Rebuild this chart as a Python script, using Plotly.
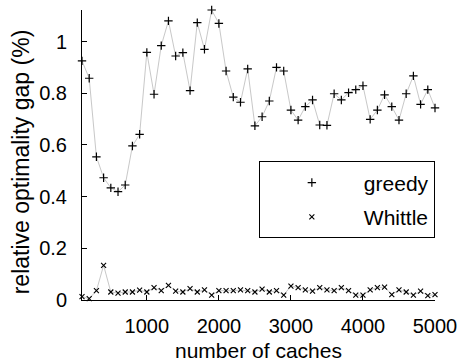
import plotly.graph_objects as go

caches = list(range(100, 5001, 100))

greedy = [0.925, 0.858, 0.554, 0.473, 0.434, 0.419, 0.445, 0.596, 0.641, 0.958,
          0.796, 0.984, 1.080, 0.944, 0.957, 0.810, 1.073, 0.970, 1.122, 1.070,
          0.886, 0.785, 0.765, 0.894, 0.674, 0.709, 0.770, 0.900, 0.886, 0.735,
          0.696, 0.748, 0.774, 0.677, 0.676, 0.798, 0.774, 0.802, 0.814, 0.829,
          0.699, 0.735, 0.794, 0.748, 0.696, 0.798, 0.867, 0.757, 0.814, 0.743]

whittle = [0.013, 0.005, 0.036, 0.134, 0.031, 0.027, 0.031, 0.031, 0.038, 0.031,
           0.048, 0.036, 0.057, 0.034, 0.031, 0.044, 0.031, 0.039, 0.019, 0.036,
           0.036, 0.036, 0.039, 0.036, 0.031, 0.042, 0.031, 0.036, 0.019, 0.054,
           0.048, 0.039, 0.034, 0.048, 0.039, 0.036, 0.048, 0.036, 0.019, 0.019,
           0.039, 0.048, 0.050, 0.021, 0.039, 0.031, 0.019, 0.034, 0.017, 0.021]

x_ticks = [1000, 2000, 3000, 4000, 5000]
y_ticks = [0, 0.2, 0.4, 0.6, 0.8, 1]
y_tick_labels = ["0", "0.2", "0.4", "0.6", "0.8", "1"]

FONT = "Liberation Sans, Arial, Helvetica, sans-serif"
LINE_GRAY = "#c8c8c8"

fig = go.Figure()
# connecting lines (no legend entry)
for ys in (greedy, whittle):
    fig.add_trace(go.Scatter(
        x=caches, y=ys, mode="lines", showlegend=False, hoverinfo="skip",
        line=dict(color=LINE_GRAY, width=1),
    ))
# markers (legend entries)
fig.add_trace(go.Scatter(
    x=caches, y=greedy, name="greedy", mode="markers",
    marker=dict(symbol="cross-thin-open", size=6, color="black",
                line=dict(color="black", width=1.2)),
    cliponaxis=False, legendgroup="g1",
))
fig.add_trace(go.Scatter(
    x=caches, y=whittle, name="Whittle", mode="markers",
    marker=dict(symbol="x-thin-open", size=5, color="black",
                line=dict(color="black", width=1.1)),
    cliponaxis=False, legendgroup="g2",
))

fig.update_layout(
    width=459, height=361,
    margin=dict(l=82, r=24, t=10, b=61),
    paper_bgcolor="white", plot_bgcolor="white",
    font=dict(family=FONT, size=20, color="black"),
    showlegend=True,
    legend=dict(
        x=0.501, y=0.478, xanchor="left", yanchor="top",
        bordercolor="black", borderwidth=1, bgcolor="white",
        font=dict(family=FONT, size=21, color="black"),
        itemwidth=94, tracegroupgap=4,
    ),
    xaxis=dict(
        range=[100, 5000], tickvals=x_ticks, automargin=False,
        showgrid=False, zeroline=False,
        showline=True, linecolor="black", linewidth=1,
        ticks="inside", ticklen=5, tickcolor="black",
        tickfont=dict(family=FONT, size=20),
        ticklabelstandoff=8,
    ),
    yaxis=dict(
        range=[0, 1.122], tickvals=y_ticks, ticktext=y_tick_labels,
        automargin=False,
        showgrid=False, zeroline=False,
        showline=True, linecolor="black", linewidth=1,
        ticks="inside", ticklen=5, tickcolor="black",
        tickfont=dict(family=FONT, size=20),
        ticklabelstandoff=10,
    ),
    annotations=[
        dict(
            text="relative optimality gap (%)", textangle=-90,
            xref="paper", yref="paper", x=-0.173, y=0.478,
            xanchor="center", yanchor="middle", showarrow=False,
            font=dict(family=FONT, size=23, color="black"),
        ),
        dict(
            text="number of caches",
            xref="paper", yref="paper", x=0.5, y=-0.175,
            xanchor="center", yanchor="middle", showarrow=False,
            font=dict(family=FONT, size=21, color="black"),
        ),
    ],
)

fig.write_html("out.html")
